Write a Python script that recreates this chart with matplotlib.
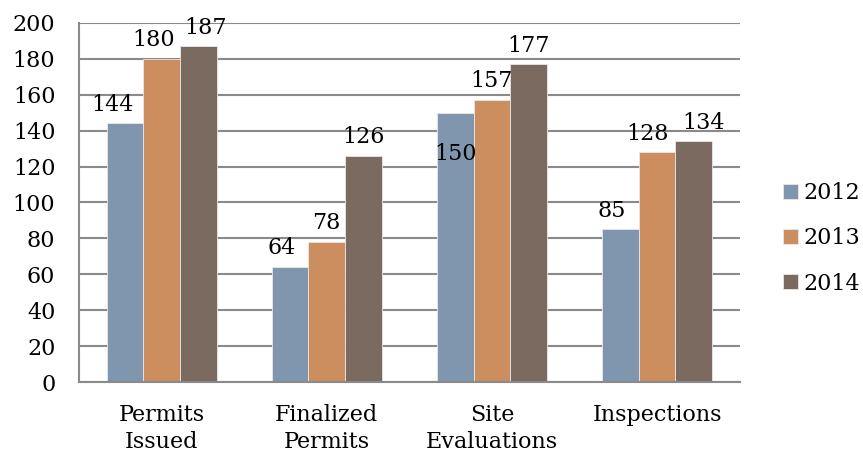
import numpy as np
import matplotlib
matplotlib.use("Agg")
import matplotlib.pyplot as plt

categories = ["Permits\nIssued", "Finalized\nPermits", "Site\nEvaluations", "Inspections"]
years = ["2012", "2013", "2014"]
values_2012 = [144, 64, 150, 85]
values_2013 = [180, 78, 157, 128]
values_2014 = [187, 126, 177, 134]
y_ticks = [0, 20, 40, 60, 80, 100, 120, 140, 160, 180, 200]

colors = ["#7F96AE", "#CC8D5F", "#7A6A60"]

# label nudges (points) to mimic the original's overlap handling
label_dx = {(0, 0): -9, (0, 1): -6, (0, 2): 5, (1, 0): -6,
            (3, 0): -6, (3, 1): -7, (3, 2): 7}
label_inside = {(2, 0): -38}

FS = 16
plt.rcParams["font.family"] = ["DejaVu Serif"]
fig = plt.figure(figsize=(8.63, 4.57), dpi=100)
ax = fig.add_axes([0.0915, 0.164, 0.7655, 0.786])

series = [values_2012, values_2013, values_2014]
x = np.arange(len(categories))
w = 0.222
for i, vals in enumerate(series):
    pos = x + (i - 1) * w
    ax.bar(pos, vals, width=w, color=colors[i], edgecolor="#E8E8E8",
           linewidth=0.6, label=years[i], zorder=3)
    for j, v in enumerate(vals):
        dx = label_dx.get((j, i), 0)
        dy = label_inside.get((j, i), 5.5)
        ax.annotate(str(v), (pos[j], v), xytext=(dx, dy), textcoords="offset points",
                    ha="center", va="bottom", fontsize=FS, zorder=4)

ax.set_xlim(-0.5, len(categories) - 0.5)
ax.set_ylim(0, 200)
ax.set_yticks(y_ticks)
ax.set_xticks(x)
ax.set_xticklabels(categories, fontsize=FS, linespacing=1.3)
ax.tick_params(axis="y", length=0, pad=17, labelsize=FS)
ax.tick_params(axis="x", length=0, pad=16)
ax.grid(axis="y", color="#8A8A8A", linewidth=1.5, zorder=0)
for s in ["top", "right"]:
    ax.spines[s].set_visible(False)
for s in ["left", "bottom"]:
    ax.spines[s].set_color("#8A8A8A")
    ax.spines[s].set_linewidth(1.5)
    ax.spines[s].set_zorder(5)

ax.legend(loc="center left", bbox_to_anchor=(1.036, 0.40), frameon=False,
          fontsize=FS, handlelength=0.65, handleheight=0.65, handletextpad=0.25,
          labelspacing=1.05)

fig.savefig("out.png", dpi=100)
